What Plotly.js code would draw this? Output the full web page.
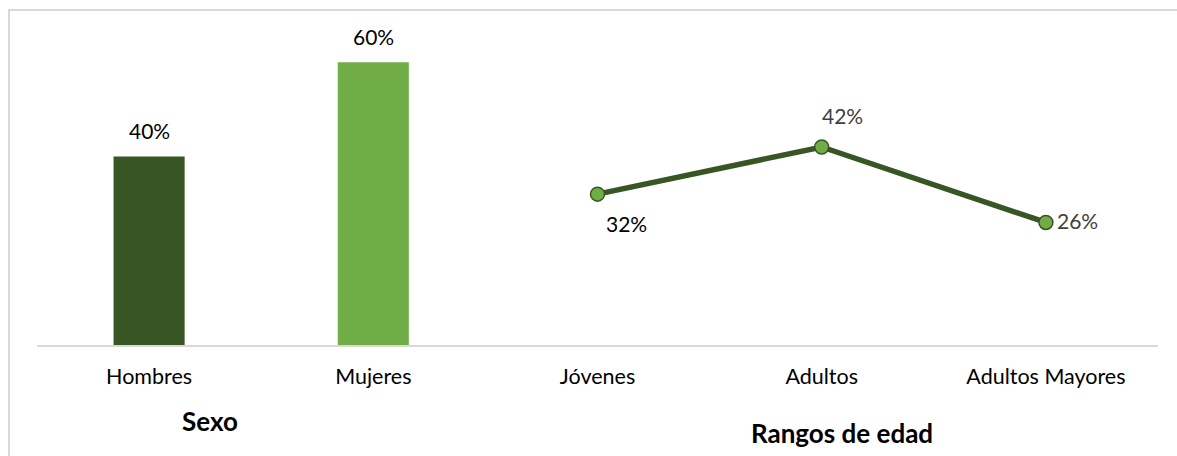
<!DOCTYPE html>
<html>
<head>
<meta charset="utf-8">
<script src="https://cdn.plot.ly/plotly-3.0.1.min.js"></script>
<style>
  html, body { margin: 0; padding: 0; background: #fff; }
  #wrap { position: relative; width: 1177px; height: 456px; overflow: hidden; }
  #frame { position: absolute; left: 8px; top: 9px; right: -5px; bottom: -5px;
           border-left: 2px solid #d9d9d9; border-top: 2px solid #d9d9d9; pointer-events: none; }
  #chart { position: absolute; left: 0; top: 0; width: 1177px; height: 456px; }
</style>
</head>
<body>
<div id="wrap">
  <div id="chart"></div>
  <div id="frame"></div>
</div>
<script>
const categories = ["Hombres", "Mujeres", "Jóvenes", "Adultos", "Adultos Mayores"];
const sexCats = ["Hombres", "Mujeres"];
const sexValues = [0.40, 0.60];
const sexColors = ["#375623", "#70AD47"];
const ageCats = ["Jóvenes", "Adultos", "Adultos Mayores"];
const ageValues = [0.32, 0.42, 0.26];
const ageLabelColors = ["#000000", "#404040", "#404040"];
const groupTitles = ["Sexo", "Rangos de edad"];

const FONT = "Lato, 'Open Sans', sans-serif";
const pct = v => Math.round(v * 100) + "%";

const bars = {
  type: "bar",
  x: sexCats,
  y: sexValues,
  width: 0.317,
  marker: { color: sexColors },
  hoverinfo: "skip"
};

const line = {
  type: "scatter",
  mode: "lines+markers",
  x: ageCats,
  y: ageValues,
  line: { color: "#375623", width: 5.5 },
  marker: { color: "#70AD47", size: 14, line: { color: "#375623", width: 1.5 } },
  cliponaxis: false,
  hoverinfo: "skip"
};

// label offsets (px) for line labels
const ageShift = [[29, -29], [21, 32], [32, 2]];

const annotations = [];
sexCats.forEach((c, i) => annotations.push({
  x: c, y: sexValues[i], xref: "x", yref: "y", text: pct(sexValues[i]),
  showarrow: false, xanchor: "center", yanchor: "middle", yshift: 26,
  font: { family: FONT, size: 21, color: "#000" }
}));
ageCats.forEach((c, i) => annotations.push({
  x: c, y: ageValues[i], xref: "x", yref: "y", text: pct(ageValues[i]),
  showarrow: false, xanchor: "center", yanchor: "middle",
  xshift: ageShift[i][0], yshift: ageShift[i][1],
  font: { family: FONT, size: 21, color: ageLabelColors[i] }
}));
annotations.push(
  { text: "<b>" + groupTitles[0] + "</b>", xref: "x", x: 0.27, yref: "paper", y: -0.23,
    yanchor: "middle", showarrow: false, font: { family: FONT, size: 26, color: "#000" } },
  { text: "<b>" + groupTitles[1] + "</b>", xref: "x", x: 3.09, yref: "paper", y: -0.266,
    yanchor: "middle", showarrow: false, font: { family: FONT, size: 26, color: "#000" } }
);

const layout = {
  width: 1177,
  height: 456,
  margin: { l: 37, r: 19, t: 15, b: 111 },
  paper_bgcolor: "#ffffff",
  plot_bgcolor: "#ffffff",
  showlegend: false,
  xaxis: {
    type: "category",
    categoryorder: "array",
    categoryarray: categories,
    range: [-0.5, 4.5],
    autorange: false,
    showline: true,
    linecolor: "#d9d9d9",
    linewidth: 2,
    ticks: "",
    showgrid: false,
    zeroline: false,
    tickfont: { family: FONT, size: 21.5, color: "#000" },
    ticklabelstandoff: 11
  },
  yaxis: {
    range: [0, 0.70],
    autorange: false,
    visible: false,
    showgrid: false,
    zeroline: false
  },
  annotations: annotations
};

Plotly.newPlot("chart", [bars, line], layout, { displayModeBar: false, staticPlot: true });
</script>
</body>
</html>
